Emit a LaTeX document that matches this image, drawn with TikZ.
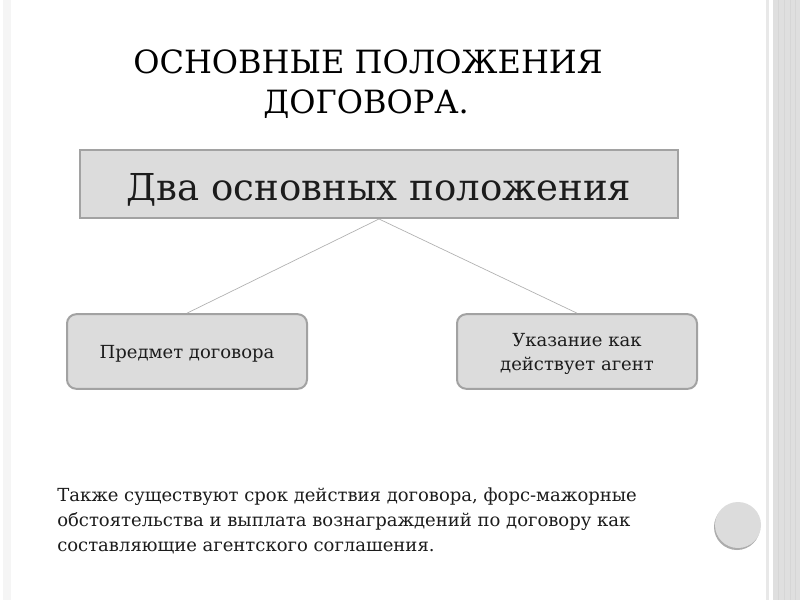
\documentclass[tikz,border=0pt]{standalone}
\usepackage{fontspec}
\setmainfont{DejaVu Serif}
\usepackage{tikz}
\usepackage{xcolor}
\definecolor{boxfill}{HTML}{DCDCDC}
\definecolor{boxline}{HTML}{A2A2A2}
\definecolor{linkline}{HTML}{B0B0B0}
\definecolor{inktext}{HTML}{1C1C1C}

\begin{document}
\begin{tikzpicture}[x=0.75pt,y=-0.75pt,
    topbox/.style={draw=boxline, line width=1.5pt, fill=boxfill, inner sep=0pt,
      minimum width=448pt, minimum height=51pt},
    leafbox/.style={draw=boxline, line width=1.5pt, fill=boxfill, inner sep=0pt,
      rounded corners=7pt, minimum width=180pt, minimum height=56pt},
    link/.style={draw=linkline, line width=0.5pt},
    words/.style={text=inktext, inner sep=0pt}]
  \useasboundingbox (0,0) rectangle (800,600);
  \fill[white] (0,0) rectangle (800,600);

  % slide edges
  \fill[gray!8] (3,0) rectangle (11,600);
  \fill[gray!18] (766,0) rectangle (769,600);
  \fill[gray!25] (773,0) rectangle (800,600);
  \foreach \xs in {778,784,790,795} {
    \draw[gray!32, line width=0.4pt] (\xs,0) -- (\xs,600);
  }

  % title
  \node[words, anchor=base, text=black, font=\fontsize{24}{30}\selectfont] (t1) at (368,73) {ОСНОВНЫЕ ПОЛОЖЕНИЯ};
  \node[words, anchor=base, text=black, font=\fontsize{24}{30}\selectfont] (t2) at (366,113) {ДОГОВОРА.};

  % boxes
  \node[topbox] (main) at (379,184) {};
  \node[words, anchor=base, font=\fontsize{27.8}{32}\selectfont] (mainlbl) at (379,200) {Два основных положения};

  \node[leafbox] (subject) at (187,351.5) {};
  \node[words, anchor=base, font=\fontsize{13.5}{18}\selectfont] (subjectlbl) at (187,358) {Предмет договора};

  \node[leafbox] (agent) at (577,351.5) {};
  \node[words, anchor=base, font=\fontsize{13.5}{18}\selectfont] (agentlbl1) at (577,346) {Указание как};
  \node[words, anchor=base, font=\fontsize{13.5}{18}\selectfont] (agentlbl2) at (577,370) {действует агент};

  \draw[link] (main.south) -- (subject.north);
  \draw[link] (main.south) -- (agent.north);

  % note below
  \node[words, anchor=base west, align=left, font=\fontsize{13.5}{18.6}\selectfont] (note) at (57,551)
    {Также существуют срок действия договора, форс-мажорные\\
     обстоятельства и выплата вознаграждений по договору как\\
     составляющие агентского соглашения.};

  % round button
  \fill[gray!65] (737,527) circle (23);
  \fill[boxfill] (738,525) circle (23);
\end{tikzpicture}
\end{document}
